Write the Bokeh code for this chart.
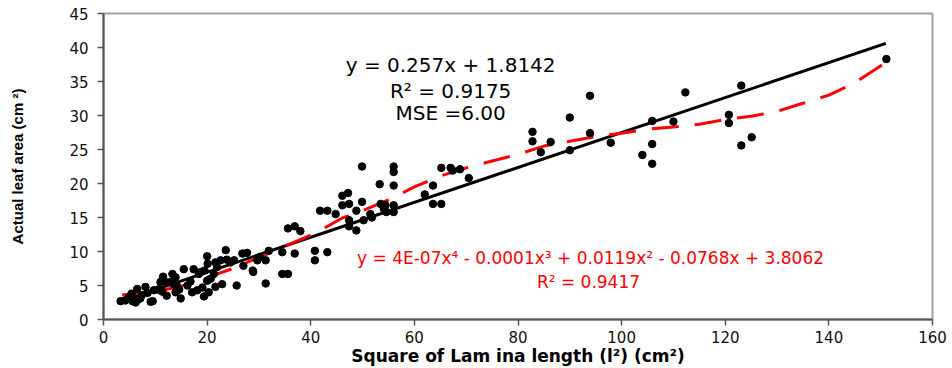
from bokeh.plotting import figure
from bokeh.models import Range1d, FixedTicker, Label
from bokeh.embed import file_html
from bokeh.resources import INLINE

# ---- data ----
scatter_x = [3.3, 4.2, 4.6, 5.0, 5.4, 5.6, 5.9, 6.2, 6.5, 6.6, 7.1, 7.4, 8.1, 8.5, 9.1, 9.5, 9.7, 10.5,
             11.0, 11.3, 11.5, 11.8, 12.2, 12.9, 13.3, 13.9, 13.6, 14.2, 13.9, 14.9, 14.6, 15.5, 16.2,
             16.8, 17.1, 17.4, 18.1, 18.4, 18.8, 19.1, 19.4, 19.5, 20.0, 20.1, 20.3, 20.7, 20.0, 21.3,
             21.6, 21.9, 21.6, 22.6, 22.9, 23.6, 23.8, 24.5, 25.2, 25.7, 26.8, 27.7, 27.0, 28.8, 28.9,
             29.7, 30.2, 31.3, 31.3, 31.9, 34.5, 34.5, 35.6, 35.6, 36.9, 36.9, 38.0,
             40.8, 40.8, 41.8, 43.2, 43.2, 44.8, 46.1, 47.4, 46.1, 47.2, 47.4, 47.4, 48.8, 48.8, 49.9,
             49.9, 50.2, 51.5, 51.8, 53.3, 53.5, 54.4, 54.6, 54.1, 56.0, 56.0, 56.0, 56.0, 56.0, 62.0,
             63.6, 63.6, 65.2, 65.2, 67.0, 67.4, 68.8, 70.5,
             82.8, 82.8, 84.4, 86.3, 90.0, 90.0, 93.9, 93.9, 97.9, 104.0, 105.9, 105.9, 105.9, 110.0,
             112.3, 120.7, 120.7, 123.1, 123.1, 125.1, 151.1]
scatter_y = [2.7, 2.8, 3.0, 3.3, 3.8, 2.7, 3.1, 2.5, 4.5, 2.9, 3.1, 3.6, 4.8, 3.9, 2.6, 2.7, 4.3, 4.4,
             5.5, 4.1, 6.3, 5.6, 3.5, 5.5, 6.7, 6.2, 5.2, 4.9, 4.0, 3.1, 4.4, 7.4, 5.0,
             5.6, 4.0, 7.4, 4.3, 6.7, 7.0, 4.7, 3.4, 7.2, 9.3, 8.2, 4.0, 6.0, 5.7, 6.7,
             4.8, 7.7, 8.4, 8.7, 5.2, 10.2, 8.8, 8.4, 8.7, 5.0, 9.7, 9.8, 7.9, 7.2, 7.0,
             8.7, 9.2, 5.3, 8.7, 10.1, 9.9, 6.7, 6.7, 13.4, 13.7, 9.7, 13.0,
             10.1, 8.7, 16.0, 16.0, 9.9, 15.5, 16.8, 17.0, 18.2, 18.6, 14.6, 13.7, 13.1, 16.0, 17.3,
             22.5, 14.6, 15.5, 15.0, 19.9, 17.0, 16.8, 15.8, 16.3, 22.5, 21.7, 19.7, 16.8, 15.8, 18.4,
             19.7, 17.0, 17.0, 22.3, 22.3, 21.9, 22.1, 20.8,
             27.6, 26.2, 24.6, 26.1, 29.7, 24.9, 32.9, 27.4, 26.0, 24.2, 29.2, 25.8, 22.9, 29.1,
             33.4, 30.1, 28.9, 34.4, 25.6, 26.8, 38.3]

linear_x = [3.6, 151.0]
linear_y = [2.74, 40.6]

poly_x = [3.6, 5, 8, 10, 12, 15, 18, 20, 22, 25, 28, 30, 33, 36, 40, 43, 46, 50, 55, 60, 65,
          70, 75, 80, 85, 90, 95, 100, 105, 110, 115, 120, 125, 130, 135, 140, 145, 151]
poly_y = [3.6, 3.7, 3.9, 4.1, 4.4, 4.9, 5.6, 6.2, 6.7, 7.5, 8.5, 9.1, 10.1, 11.1, 12.4, 13.6,
          14.9, 16.0, 17.6, 19.5, 21.1, 22.3, 23.3, 24.3, 25.5, 26.2, 26.9, 27.4, 28.0, 28.3,
          28.7, 29.4, 29.9, 30.6, 31.8, 33.0, 34.8, 37.8]

x_ticks = [0, 20, 40, 60, 80, 100, 120, 140, 160]
y_ticks = [0, 5, 10, 15, 20, 25, 30, 35, 40, 45]

lin_text = ["y = 0.257x + 1.8142", "R² = 0.9175", "MSE =6.00"]
poly_text = ["y = 4E-07x⁴ - 0.0001x³ + 0.0119x² - 0.0768x + 3.8062", "R² = 0.9417"]
x_label = "Square of Lam ina length (l²) (cm²)"
y_label = "Actual leaf area (cm ²)"

p = figure(width=952, height=368, output_backend="svg", toolbar_location=None,
           x_range=Range1d(0, 160), y_range=Range1d(0, 45),
           min_border_left=103, min_border_right=20, min_border_top=13, min_border_bottom=49)

p.grid.visible = False
p.outline_line_color = "#a0a0a0"
p.outline_line_width = 2
p.background_fill_color = "white"
p.border_fill_color = "white"

for ax in (p.xaxis[0], p.yaxis[0]):
    ax.axis_line_color = "#555555"
    ax.axis_line_width = 2
    ax.major_tick_line_color = "#555555"
    ax.major_tick_line_width = 1.5
    ax.major_tick_out = 6
    ax.major_tick_in = 0
    ax.minor_tick_line_color = None
    ax.major_label_text_font = "DejaVu Sans"
    ax.major_label_text_font_size = "15px"
    ax.major_label_text_color = "#111111"
    ax.axis_label_text_color = "black"
    ax.axis_label_text_font_style = "bold"

p.xaxis.ticker = FixedTicker(ticks=x_ticks)
p.yaxis.ticker = FixedTicker(ticks=y_ticks)
p.xaxis.major_label_standoff = 5
p.yaxis.major_label_standoff = 9

p.yaxis.axis_label = y_label
p.yaxis.axis_label_text_font = "Liberation Sans"
p.yaxis.axis_label_text_font_size = "15px"
p.yaxis.axis_label_standoff = 40

p.xaxis.axis_label = x_label
p.xaxis.axis_label_text_font = "DejaVu Sans"
p.xaxis.axis_label_text_font_size = "17px"
p.xaxis.axis_label_standoff = 0

# regression lines and points
p.line(linear_x, linear_y, line_color="black", line_width=3)
p.line(poly_x, poly_y, line_color="#ff0000", line_width=3, line_dash="27 16")
p.scatter(scatter_x, scatter_y, size=7.5, marker="circle", fill_color="black", line_color="black")

# equation labels
lin_pos = [(67.0, 37.4), (67.0, 33.6), (67.0, 30.4)]
for t, (lx, ly) in zip(lin_text, lin_pos):
    p.add_layout(Label(x=lx, y=ly, text=t, text_align="center", text_baseline="middle",
                       text_font="DejaVu Sans", text_font_size="20px", text_color="black"))
poly_pos = [(94.0, 9.0), (93.6, 5.5)]
for t, (lx, ly) in zip(poly_text, poly_pos):
    p.add_layout(Label(x=lx, y=ly, text=t, text_align="center", text_baseline="middle",
                       text_font="DejaVu Sans", text_font_size="17px", text_color="#ff0000"))

open("out.html", "w").write(file_html(p, INLINE))
